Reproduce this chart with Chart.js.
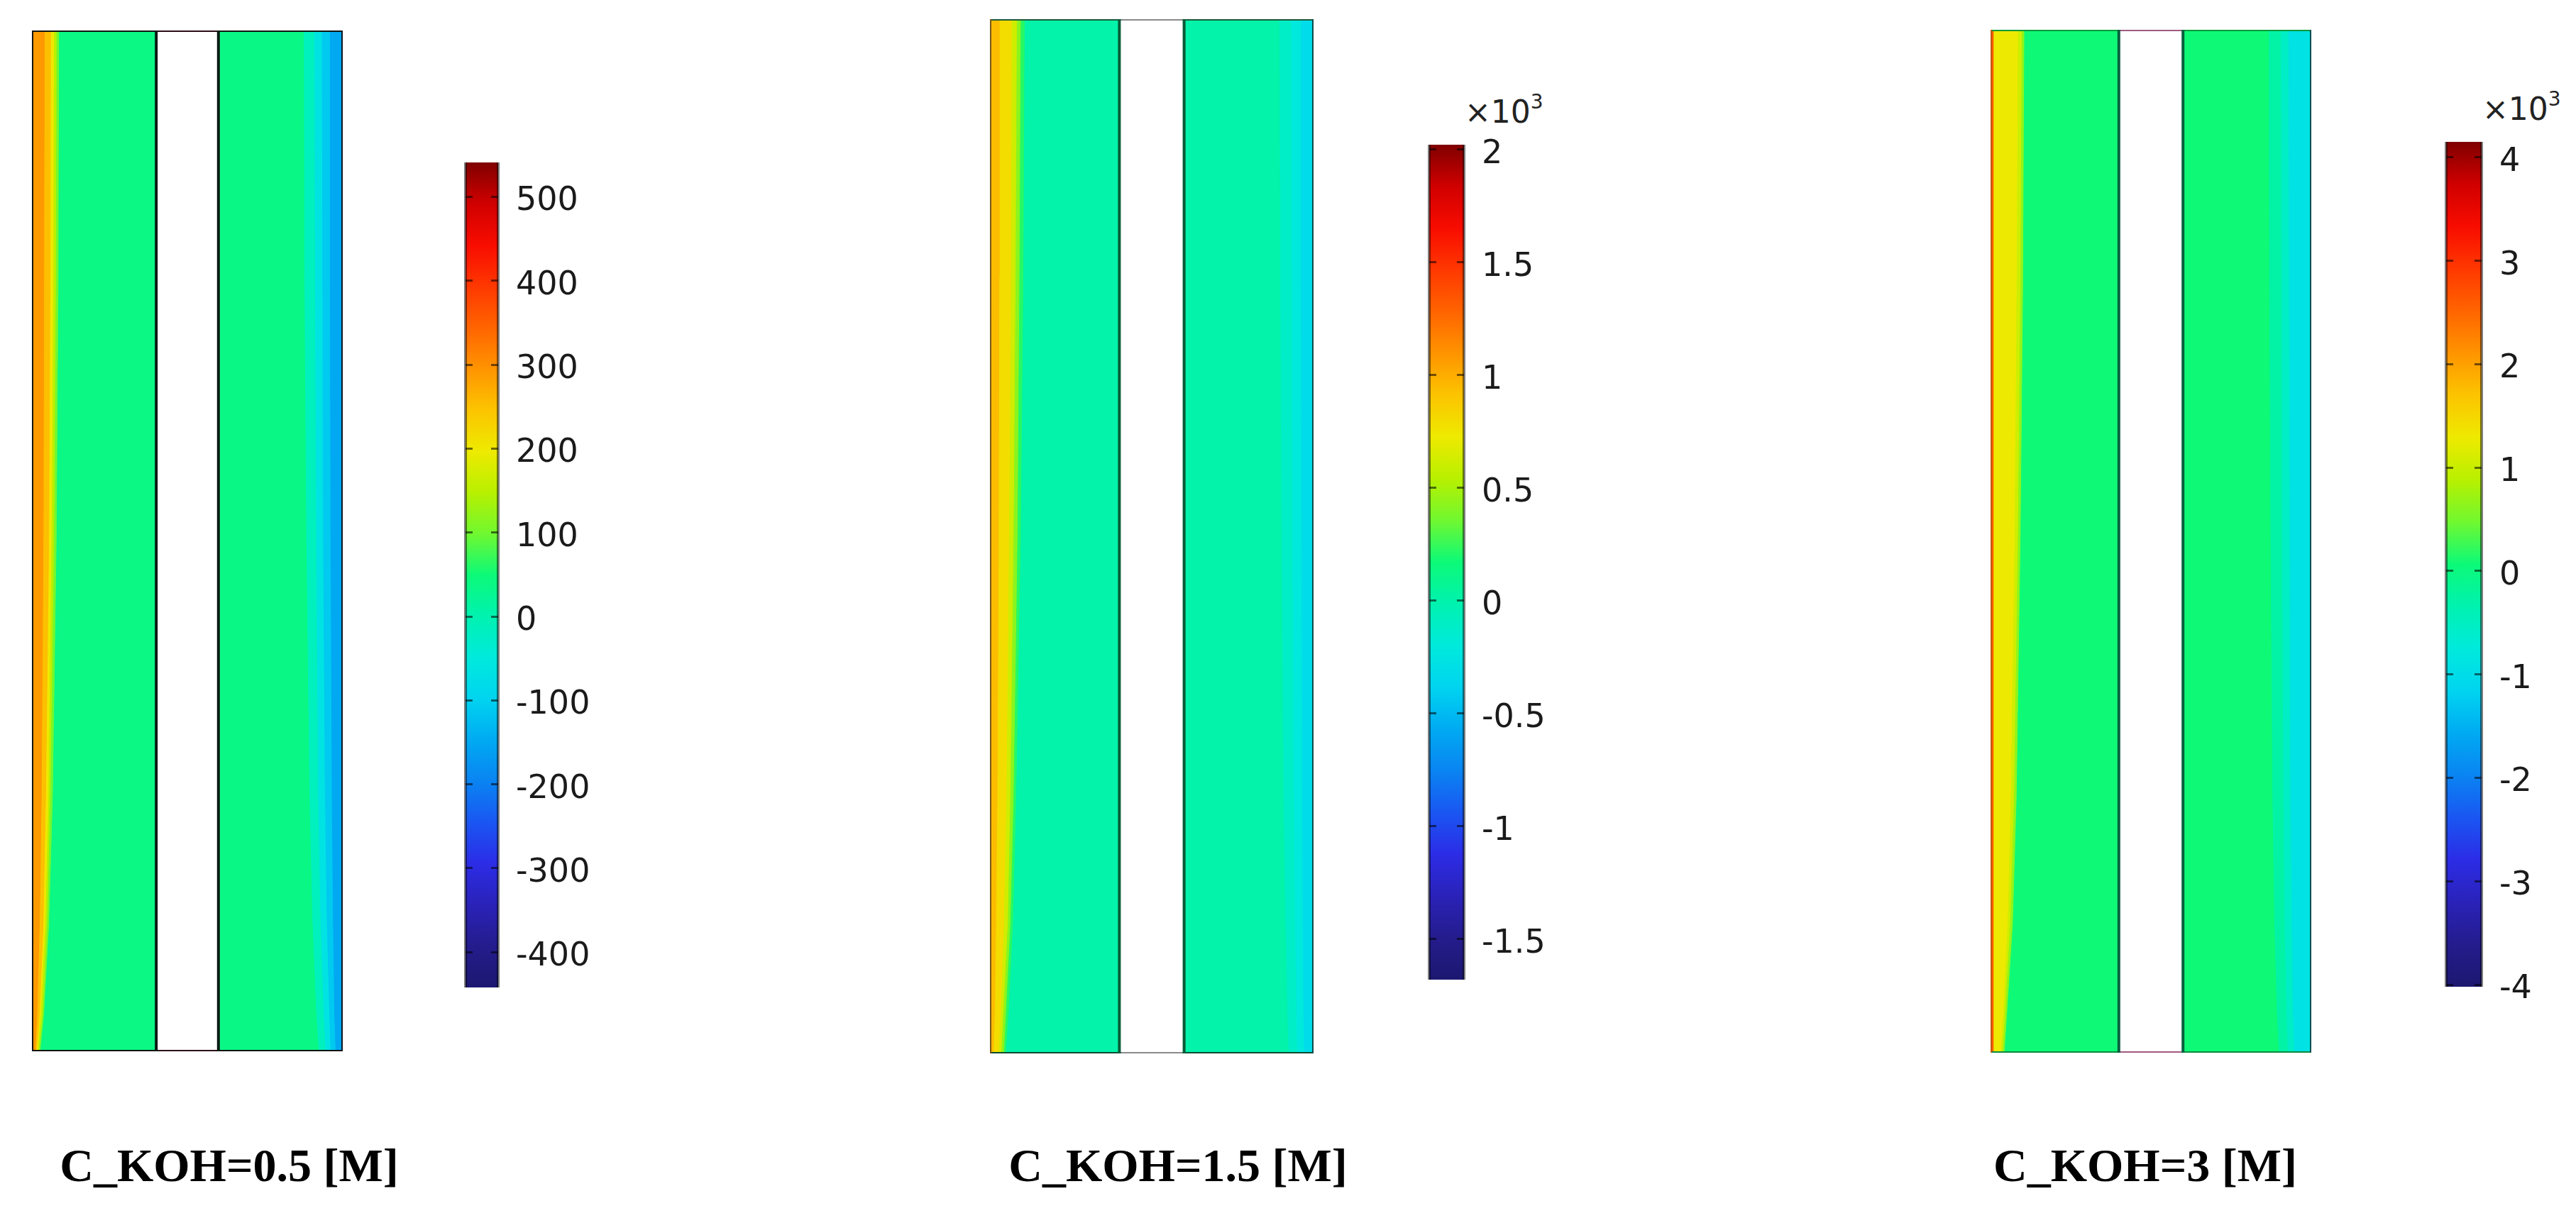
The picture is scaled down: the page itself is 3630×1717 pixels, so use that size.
<!DOCTYPE html>
<html><head><meta charset="utf-8">
<script src="https://cdn.jsdelivr.net/npm/chart.js@4.4.0/dist/chart.umd.min.js"></script>
<style>
html,body{margin:0;padding:0;background:#fff;}
body{width:3630px;height:1717px;position:relative;overflow:hidden;}
canvas{position:absolute;}
.title{position:absolute;font-family:"Liberation Serif","Times New Roman",serif;font-weight:bold;font-size:66px;color:#000;white-space:nowrap;transform:translate(-50%,-50%);}
.mult{position:absolute;font-family:"DejaVu Sans",sans-serif;font-size:44px;color:#222;white-space:nowrap;line-height:1;}
.mult sup{font-size:28px;position:relative;top:-6px;vertical-align:top;}
</style></head><body>
<div class="title" style="left:323px;top:1643px;">C_KOH=0.5 [M]</div>
<div class="title" style="left:1660px;top:1643px;">C_KOH=1.5 [M]</div>
<div class="title" style="left:3023px;top:1643px;">C_KOH=3 [M]</div>
<div class="mult" style="left:2064px;top:136px;">×10<sup>3</sup></div>
<div class="mult" style="left:3498px;top:132px;">×10<sup>3</sup></div>
<script>
// ---------------- DATA ----------------
// heights (domain units, top -> bottom) where isolines are read
const rowHeights = [16, 12, 8, 4, 2, 0.6, 0];

// colour-bar ranges and ticks
const cb1Range = [-442, 541];
const cb1Ticks = [-400, -300, -200, -100, 0, 100, 200, 300, 400, 500];
const cb2Range = [-1680, 2022];
const cb2Ticks = [-1500, -1000, -500, 0, 500, 1000, 1500, 2000];
const cb3Range = [-4020, 4150];
const cb3Ticks = [-4000, -3000, -2000, -1000, 0, 1000, 2000, 3000, 4000];

// panel titles
const panelTitles = ['C_KOH=0.5 [M]', 'C_KOH=1.5 [M]', 'C_KOH=3 [M]'];

// bulk value in left / right domain
const p1Background = [40, 38];
const p2Background = [10, 10];
const p3Background = [75, 75];

// left boundary layer: value inside each band (outer -> inner) and isoline distance from wall
const p1LeftValues = [100, 150, 200, 250, 290];
const p1LeftIsolines = [
  [0.43, 0.42, 0.39, 0.33, 0.27, 0.19, 0.13],
  [0.39, 0.38, 0.35, 0.29, 0.24, 0.17, 0.11],
  [0.35, 0.34, 0.31, 0.26, 0.21, 0.14, 0.09],
  [0.30, 0.29, 0.27, 0.22, 0.18, 0.12, 0.07],
  [0.20, 0.19, 0.18, 0.15, 0.12, 0.08, 0.05]
];
const p1RightValues = [-15, -65, -110, -150];
const p1RightIsolines = [
  [0.62, 0.61, 0.58, 0.53, 0.48, 0.42, 0.38],
  [0.45, 0.44, 0.42, 0.39, 0.35, 0.30, 0.27],
  [0.33, 0.32, 0.31, 0.28, 0.25, 0.21, 0.19],
  [0.20, 0.20, 0.19, 0.17, 0.15, 0.13, 0.11]
];

const p2LeftValues = [220, 420, 620, 790, 940];
const p2LeftIsolines = [
  [0.53, 0.51, 0.47, 0.40, 0.35, 0.28, 0.24],
  [0.47, 0.45, 0.42, 0.36, 0.31, 0.24, 0.21],
  [0.41, 0.39, 0.36, 0.31, 0.27, 0.20, 0.17],
  [0.33, 0.32, 0.29, 0.25, 0.21, 0.16, 0.13],
  [0.14, 0.14, 0.13, 0.11, 0.09, 0.07, 0.05]
];
const p2RightValues = [-110, -210, -320];
const p2RightIsolines = [
  [0.52, 0.51, 0.49, 0.46, 0.43, 0.40, 0.38],
  [0.34, 0.33, 0.32, 0.30, 0.28, 0.26, 0.25],
  [0.19, 0.19, 0.18, 0.17, 0.16, 0.15, 0.14]
];

const p3LeftValues = [650, 1050, 1300, 2600];
const p3LeftIsolines = [
  [0.52, 0.50, 0.46, 0.40, 0.34, 0.25, 0.21],
  [0.48, 0.46, 0.42, 0.36, 0.30, 0.22, 0.18],
  [0.42, 0.40, 0.37, 0.31, 0.26, 0.19, 0.15],
  [0.04, 0.04, 0.04, 0.04, 0.04, 0.04, 0.04]
];
const p3RightValues = [-270, -550, -900];
const p3RightIsolines = [
  [0.66, 0.65, 0.63, 0.60, 0.57, 0.53, 0.50],
  [0.47, 0.46, 0.45, 0.43, 0.41, 0.38, 0.36],
  [0.35, 0.34, 0.33, 0.32, 0.30, 0.28, 0.26]
];

// ---------------- STYLE ----------------
const RAINBOW = [
  [0.00, '#1c1870'], [0.05, '#241c8c'], [0.10, '#2a22b8'], [0.15, '#2c2ce6'],
  [0.20, '#1a56f2'], [0.25, '#0a84f2'], [0.30, '#00aaf2'], [0.35, '#00d4f0'],
  [0.40, '#00eadc'], [0.45, '#00f2b0'], [0.50, '#0cfa78'], [0.55, '#70f830'],
  [0.60, '#b8f000'], [0.65, '#eeea00'], [0.70, '#fcc400'], [0.75, '#ff9400'],
  [0.80, '#ff6400'], [0.85, '#ff3800'], [0.90, '#f80c00'], [0.95, '#d00000'],
  [1.00, '#800000']
];
function hex(h) { return [parseInt(h.slice(1,3),16), parseInt(h.slice(3,5),16), parseInt(h.slice(5,7),16)]; }
function cmap(t) {
  t = Math.max(0, Math.min(1, t));
  for (let i = 1; i < RAINBOW.length; i++) {
    if (t <= RAINBOW[i][0]) {
      const [t0, c0] = RAINBOW[i-1], [t1, c1] = RAINBOW[i];
      const f = (t - t0) / (t1 - t0), a = hex(c0), b = hex(c1);
      return 'rgb(' + a.map((v, k) => Math.round(v + (b[k] - v) * f)).join(',') + ')';
    }
  }
  return RAINBOW[RAINBOW.length-1][1];
}
function colorFor(v, range) { return cmap((v - range[0]) / (range[1] - range[0])); }

const GEOM = { leftDomain: [0, 2], rightDomain: [3, 5], width: 5, height: 16 };

function makeCanvas(left, top, w, h) {
  const c = document.createElement('canvas');
  c.width = w; c.height = h;
  c.style.left = left + 'px'; c.style.top = top + 'px';
  c.style.width = w + 'px'; c.style.height = h + 'px';
  document.body.appendChild(c);
  return c;
}
function rectPts(x0, x1, y0, y1) {
  return [{x:x0,y:y0},{x:x1,y:y0},{x:x1,y:y1},{x:x0,y:y1},{x:x0,y:y0}];
}
function stripPts(wallX, dir, iso) {
  const pts = rowHeights.map((h, i) => ({x: wallX + dir * iso[i], y: h}));
  pts.push({x: wallX, y: rowHeights[rowHeights.length-1]});
  pts.push({x: wallX, y: rowHeights[0]});
  pts.push({x: pts[0].x, y: pts[0].y});
  return pts;
}
function fillDs(points, color) {
  return {data: points, fill: 'shape', backgroundColor: color, borderColor: color,
          borderWidth: 1, pointRadius: 0, tension: 0};
}
function lineDs(points, color, width) {
  return {data: points, fill: false, borderColor: color, borderWidth: width,
          pointRadius: 0, tension: 0, borderCapStyle: 'square'};
}

function drawPanel(box, range, bg, lVals, lIso, rVals, rIso, edge) {
  const pad = 10;
  const c = makeCanvas(box[0] - pad, box[1] - pad, box[2] - box[0] + 2*pad, box[3] - box[1] + 2*pad);
  const H = GEOM.height, L = GEOM.leftDomain, R = GEOM.rightDomain;
  const list = [];
  list.push(fillDs(rectPts(L[0], L[1], 0, H), colorFor(bg[0], range)));
  list.push(fillDs(rectPts(R[0], R[1], 0, H), colorFor(bg[1], range)));
  lIso.forEach((iso, i) => list.push(fillDs(stripPts(L[0], 1, iso), colorFor(lVals[i], range))));
  rIso.forEach((iso, i) => list.push(fillDs(stripPts(R[1], -1, iso), colorFor(rVals[i], range))));
  const w = edge.width;
  list.push(lineDs([{x:L[1],y:H},{x:R[0],y:H}], edge.gap, w));
  list.push(lineDs([{x:L[1],y:0},{x:R[0],y:0}], edge.gap, w));
  list.push(lineDs([{x:L[0],y:H},{x:L[1],y:H}], edge.top, w));
  list.push(lineDs([{x:R[0],y:H},{x:R[1],y:H}], edge.top, w));
  list.push(lineDs([{x:L[0],y:0},{x:L[1],y:0}], edge.bottom, w));
  list.push(lineDs([{x:R[0],y:0},{x:R[1],y:0}], edge.bottom, w));
  list.push(lineDs([{x:L[1],y:0},{x:L[1],y:H}], edge.inner, w));
  list.push(lineDs([{x:R[0],y:0},{x:R[0],y:H}], edge.inner, w));
  list.push(lineDs([{x:L[0],y:0},{x:L[0],y:H}], edge.left, w));
  list.push(lineDs([{x:R[1],y:0},{x:R[1],y:H}], edge.right, w));
  const datasets = list.map((d, i) => Object.assign(d, {order: list.length - i}));
  new Chart(c, {
    type: 'line',
    data: {datasets},
    options: {
      responsive: false, animation: false, devicePixelRatio: 1,
      layout: {padding: pad},
      scales: {
        x: {type: 'linear', min: 0, max: GEOM.width, display: false},
        y: {type: 'linear', min: 0, max: H, display: false}
      },
      plugins: {legend: {display: false}, tooltip: {enabled: false}}
    }
  });
}

function drawColorbar(box, range, ticks, scaleDiv) {
  const padL = 10, padT = 70, padB = 70, axisW = 150;
  const bw = box[2] - box[0], bh = box[3] - box[1];
  const c = makeCanvas(box[0] - padL, box[1] - padT, padL + bw + axisW, padT + bh + padB);
  new Chart(c, {
    type: 'bar',
    data: {labels: [''], datasets: [{
      data: [[range[0], range[1]]],
      barPercentage: 1, categoryPercentage: 1, borderWidth: 0,
      backgroundColor: (ctx) => {
        const ch = ctx.chart;
        if (!ch.chartArea) return 'rgba(0,0,0,0)';
        const ys = ch.scales.y;
        const g = ch.ctx.createLinearGradient(0, ys.getPixelForValue(range[1]), 0, ys.getPixelForValue(range[0]));
        RAINBOW.forEach(([t, col]) => g.addColorStop(1 - t, col));
        return g;
      }
    }]},
    options: {
      responsive: false, animation: false, devicePixelRatio: 1,
      layout: {padding: {left: padL, top: padT, bottom: padB, right: 0}},
      scales: {
        x: {display: true, offset: true, ticks: {display: false},
            grid: {display: true, offset: true, drawTicks: false, color: 'rgba(0,0,0,0.5)', lineWidth: 4, z: 1},
            border: {display: false}},
        y: {position: 'right', min: range[0], max: range[1],
            afterBuildTicks: (s) => { s.ticks = ticks.map(v => ({value: v})); },
            afterFit: (s) => { s.width = axisW; },
            ticks: {padding: 25, labelOffset: 7, color: '#1a1a1a', font: {family: 'DejaVu Sans', size: 46},
                    callback: (v) => String(v / scaleDiv)},
            grid: {drawTicks: false, color: 'rgba(0,0,0,0.55)', lineWidth: 3, z: 1},
            border: {display: false, dash: [10, bw - 20]}}
      },
      plugins: {legend: {display: false}, tooltip: {enabled: false}}
    }
  });
}

drawPanel([45, 43, 483, 1482], cb1Range, p1Background, p1LeftValues, p1LeftIsolines, p1RightValues, p1RightIsolines,
  {width: 4, left: '#141414', right: '#101820', top: '#101410', bottom: '#101410', inner: '#0c1a12', gap: '#2a0c18'});
drawPanel([1395, 27, 1851, 1485], cb2Range, p2Background, p2LeftValues, p2LeftIsolines, p2RightValues, p2RightIsolines,
  {width: 4, left: '#7a5418', right: '#0c4a4a', top: '#1c5a3a', bottom: '#0c4a30', inner: '#0a5a38', gap: '#8a8a8a'});
drawPanel([2805, 42, 3257, 1484], cb3Range, p3Background, p3LeftValues, p3LeftIsolines, p3RightValues, p3RightIsolines,
  {width: 4, left: '#c05a10', right: '#0a5050', top: '#0a9a3a', bottom: '#0a8a40', inner: '#0a6040', gap: '#a05a80'});

drawColorbar([656, 229, 702, 1392], cb1Range, cb1Ticks, 1);
drawColorbar([2014, 204, 2063, 1381], cb2Range, cb2Ticks, 1000);
drawColorbar([3447, 200, 3497, 1391], cb3Range, cb3Ticks, 1000);
</script>
</body></html>
